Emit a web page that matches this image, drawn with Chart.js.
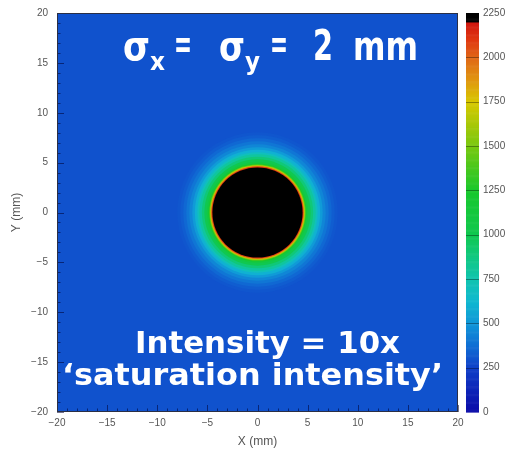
<!DOCTYPE html>
<html>
<head>
<meta charset="utf-8">
<title>Beam spot intensity</title>
<script src="https://cdn.jsdelivr.net/npm/chart.js@4.4.1/dist/chart.umd.min.js"></script>
<style>
  html, body { margin: 0; padding: 0; background: #fff; }
</style>
</head>
<body>
<canvas id="spot" width="512" height="452"></canvas>
<script>
/* ============================================================
   DATA
============================================================ */
// spot centre (mm)
const spotX = [0];
const spotY = [0];

// radial profile: outer radius of each ring (mm) and its level, drawn outside-in
const ringRadius = [30, 8.0, 7.7, 7.4, 7.1, 6.8, 6.5, 6.25, 6.0, 5.8, 5.55, 5.3, 5.05, 4.9, 4.8, 4.72, 4.65, 4.58, 4.5];
const ringLevel  = [300, 310, 330, 360, 400, 450, 520, 600, 700, 800, 900, 1000, 1100, 1250, 1450, 1700, 1900, 2100, 2300];

const xTicks = [-20, -15, -10, -5, 0, 5, 10, 15, 20];
const yTicks = [-20, -15, -10, -5, 0, 5, 10, 15, 20];
const zTicks = [0, 250, 500, 750, 1000, 1250, 1500, 1750, 2000, 2250];
const zMax   = 2250;

/* ============================================================
   PALETTE  (ROOT-like rainbow, black on top)
============================================================ */
const PALETTE = [
  [0,    [10, 10, 168]],
  [250,  [16, 64, 200]],
  [375,  [16, 110, 212]],
  [500,  [16, 150, 216]],
  [625,  [16, 184, 208]],
  [750,  [16, 196, 176]],
  [875,  [16, 200, 130]],
  [1000, [16, 200, 80]],
  [1250, [24, 200, 44]],
  [1500, [120, 200, 16]],
  [1750, [216, 200, 0]],
  [1875, [224, 150, 16]],
  [2000, [224, 104, 24]],
  [2100, [224, 56, 16]],
  [2199, [208, 24, 16]],
  [2200, [0, 0, 0]],
  [2250, [0, 0, 0]]
];

function levelColor(v) {
  if (v <= PALETTE[0][0]) return `rgb(${PALETTE[0][1].join(',')})`;
  for (let i = 1; i < PALETTE.length; i++) {
    const [v1, c1] = PALETTE[i];
    if (v <= v1) {
      const [v0, c0] = PALETTE[i - 1];
      const t = (v - v0) / (v1 - v0);
      const c = c0.map((a, k) => Math.round(a + (c1[k] - a) * t));
      return `rgb(${c.join(',')})`;
    }
  }
  return 'rgb(0,0,0)';
}

/* ring radius in mm -> pixels, through the x scale */
function ringPx(chart, r) {
  const xs = chart.scales.x;
  if (!xs) return 0;
  return Math.abs(xs.getPixelForValue(r) - xs.getPixelForValue(0));
}

const minus = v => (v < 0 ? '\u2212' + Math.abs(v) : String(v));

/* vertical axes: fixed width, no extra top/bottom label padding */
const fitVertical = w => s => { s.width = w; s.paddingTop = 0; s.paddingBottom = 0; };

/* ============================================================
   DECORATION PLUGIN  — frame, inner ticks, colour bar, labels
============================================================ */
const TEXT_FONT = '"DejaVu Sans", "Liberation Sans", sans-serif';

function fitText(c, text, x0, x1, base, size) {
  c.font = `bold ${size}px ${TEXT_FONT}`;
  const w = c.measureText(text).width;
  c.save();
  c.translate(x0, base);
  c.scale((x1 - x0) / w, 1);
  c.fillText(text, 0, 0);
  c.restore();
}

const decor = {
  id: 'decor',
  afterDatasetsDraw(chart) {
    const { ctx: c, chartArea: a, scales } = chart;
    c.save();
    // inner ticks, left and bottom
    c.strokeStyle = 'rgba(0,0,50,0.55)';
    c.lineWidth = 1;
    for (let v = -20; v <= 20; v++) {
      const len = v % 5 === 0 ? 7 : 3.5;
      const py = Math.round(scales.y.getPixelForValue(v)) + 0.5;
      c.beginPath(); c.moveTo(a.left, py); c.lineTo(a.left + len, py); c.stroke();
      const px = Math.round(scales.x.getPixelForValue(v)) + 0.5;
      c.beginPath(); c.moveTo(px, a.bottom); c.lineTo(px, a.bottom - len); c.stroke();
    }
    // frame
    c.strokeStyle = '#2a2f45';
    c.strokeRect(a.left + 0.5, a.top + 0.5, a.right - a.left - 1, a.bottom - a.top - 1);
    c.restore();
  },
  afterDraw(chart) {
    const { ctx: c, chartArea: a, scales } = chart;
    const z = scales.z;
    c.save();
    // colour bar
    const bx0 = a.right + 8, bx1 = a.right + 21;
    for (let v = 0; v < zMax; v += 5) {
      const y0 = z.getPixelForValue(v), y1 = z.getPixelForValue(v + 5);
      c.fillStyle = levelColor(v + 2.5);
      c.fillRect(bx0, y1, bx1 - bx0, y0 - y1 + 0.6);
    }
    c.strokeStyle = 'rgba(0,0,0,0.35)';
    zTicks.slice(1, -1).forEach(v => {
      const py = Math.round(z.getPixelForValue(v)) + 0.5;
      c.beginPath(); c.moveTo(bx0, py); c.lineTo(bx1, py); c.stroke();
    });

    // annotation text
    const L = a.left, T = a.top;
    c.fillStyle = '#fff';
    c.textAlign = 'left';
    c.textBaseline = 'alphabetic';
    fitText(c, '\u03C3', L + 66, L + 93, T + 47, 40);
    fitText(c, 'x',       L + 93, L + 108, T + 57, 25);
    fitText(c, '=',       L + 117, L + 135, T + 45, 40);
    fitText(c, '\u03C3', L + 162, L + 188, T + 47, 40);
    fitText(c, 'y',       L + 188, L + 203, T + 57, 25);
    fitText(c, '=',       L + 213, L + 231, T + 45, 40);
    fitText(c, '2',       L + 256, L + 276, T + 47, 42);
    fitText(c, 'mm',      L + 296, L + 361, T + 47, 40);

    fitText(c, 'Intensity = 10x', L + 78, L + 343, T + 340, 31);
    fitText(c, '\u2018saturation intensity\u2019', L + 5, L + 386, T + 372, 31);
    c.restore();
  }
};

/* ============================================================
   CHART
============================================================ */
const tickFont  = { family: '"Liberation Sans", Arial, sans-serif', size: 10 };
const titleFont = { family: '"Liberation Sans", Arial, sans-serif', size: 12 };

new Chart(document.getElementById('spot').getContext('2d'), {
  type: 'scatter',
  data: {
    datasets: [{
      data: ringRadius.map(() => ({ x: spotX[0], y: spotY[0] })),
      pointRadius: c => ringPx(c.chart, ringRadius[c.dataIndex]),
      pointHoverRadius: c => ringPx(c.chart, ringRadius[c.dataIndex]),
      pointBackgroundColor: c => levelColor(ringLevel[c.dataIndex]),
      pointBorderWidth: 0,
      pointHoverBorderWidth: 0,
      clip: 0
    }]
  },
  options: {
    responsive: false,
    animation: false,
    events: [],
    layout: { autoPadding: false, padding: { top: 13, left: 0, right: 0, bottom: 0 } },
    plugins: { legend: { display: false }, tooltip: { enabled: false } },
    scales: {
      x: {
        type: 'linear', min: -20, max: 20,
        grid: { display: false, drawTicks: false },
        border: { display: false },
        afterBuildTicks: s => { s.ticks = xTicks.map(v => ({ value: v })); },
        afterFit: s => { s.height = 40; },
        ticks: { padding: 5, color: '#555', font: tickFont, autoSkip: false, maxRotation: 0, callback: minus },
        title: { display: true, text: 'X (mm)', color: '#555', font: titleFont, padding: { top: 0, bottom: 3 } }
      },
      y: {
        type: 'linear', min: -20, max: 20,
        grid: { display: false, drawTicks: false },
        border: { display: false },
        afterBuildTicks: s => { s.ticks = yTicks.map(v => ({ value: v })); },
        afterFit: fitVertical(57),
        ticks: { padding: 9, color: '#555', font: tickFont, autoSkip: false, callback: minus },
        title: { display: true, text: 'Y (mm)', color: '#555', font: titleFont, padding: { top: 9, bottom: 0 } }
      },
      z: {
        type: 'linear', position: 'right', display: true, min: 0, max: zMax,
        grid: { display: false, drawTicks: false },
        border: { display: false },
        afterBuildTicks: s => { s.ticks = zTicks.map(v => ({ value: v })); },
        afterFit: fitVertical(54),
        ticks: { padding: 25, color: '#555', font: tickFont, autoSkip: false, callback: v => String(v) }
      }
    }
  },
  plugins: [decor]
});
</script>
</body>
</html>
